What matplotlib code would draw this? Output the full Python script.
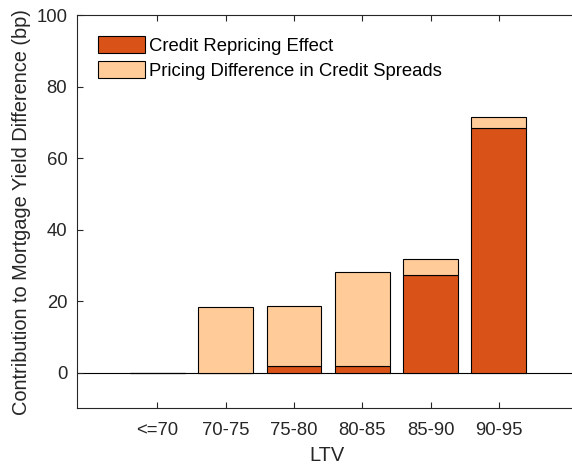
import matplotlib
matplotlib.use("Agg")
import matplotlib.pyplot as plt
import numpy as np

categories = ["<=70", "70-75", "75-80", "80-85", "85-90", "90-95"]
credit_repricing = [0.0, 0.0, 1.7, 1.95, 27.4, 68.4]
pricing_diff = [0.0, 18.4, 17.0, 26.05, 4.4, 3.2]

plt.rcParams['font.family'] = ['Liberation Sans', 'DejaVu Sans']
plt.rcParams['font.size'] = 13.3

fig = plt.figure(figsize=(5.72, 4.72), dpi=100)
ax = fig.add_axes([77/572, 63.7/472, 500/572, (408.3-15)/472])

x = np.arange(1, len(categories) + 1)
ax.bar(x, credit_repricing, width=0.8, color="#D95319", edgecolor="black",
       linewidth=0.8, label="Credit Repricing Effect")
ax.bar(x, pricing_diff, width=0.8, bottom=credit_repricing, color="#FFCC99",
       edgecolor="black", linewidth=0.8, label="Pricing Difference in Credit Spreads")
ax.axhline(0, color="black", linewidth=0.8, zorder=0.5)

ax.set_xlim(1 - 80.3/68.3, 1 + (577-157.3)/68.3)
ax.set_ylim(-10, 100)
ax.set_xticks(x)
ax.set_xticklabels(categories)
ax.set_yticks([0, 20, 40, 60, 80, 100])
ax.tick_params(direction="in", top=True, right=False, length=4, color="#262626",
               labelcolor="#262626")
ax.tick_params(axis="x", pad=10)
ax.tick_params(axis="y", pad=7)
for s in ["left", "bottom", "top"]:
    ax.spines[s].set_color("#262626")
    ax.spines[s].set_linewidth(0.8)
ax.spines["right"].set_visible(False)

ax.set_xlabel("LTV", color="#262626", labelpad=5, fontsize=14.4)
ax.set_ylabel("Contribution to Mortgage Yield Difference (bp)", color="#262626",
              labelpad=4, fontsize=14.4)

leg = ax.legend(loc="upper left", frameon=False, handlelength=2.54, handleheight=1.05,
                handletextpad=0.2, labelspacing=0.3, borderaxespad=0.75,
                bbox_to_anchor=(0.0, 1.0))
for t in leg.get_texts():
    t.set_color("black")

fig.savefig("out.png", dpi=100)
